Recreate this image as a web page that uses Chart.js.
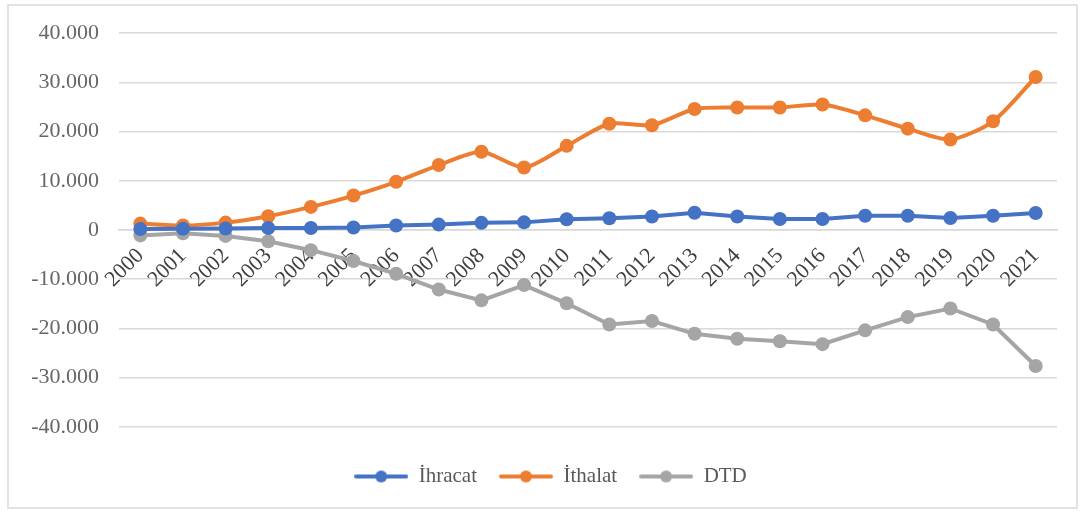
<!DOCTYPE html>
<html>
<head>
<meta charset="utf-8">
<script src="https://cdn.jsdelivr.net/npm/chart.js@4/dist/chart.umd.min.js"></script>
<style>
  html, body { margin: 0; padding: 0; background: #fff; }
  #wrap { position: relative; width: 1087px; height: 512px; }
  #frame { position: absolute; left: 7px; top: 4px; width: 1071px; height: 505px; border: 2px solid #e3e3e3; box-sizing: border-box; pointer-events: none; }
  canvas { position: absolute; left: 0; top: 0; }
</style>
</head>
<body>
<div id="wrap">
  <canvas id="chart" width="1087" height="512"></canvas>
  <div id="frame"></div>
</div>
<script>
// Years on the category axis
const years = ['2000', '2001', '2002', '2003', '2004', '2005', '2006', '2007', '2008', '2009', '2010',
    '2011', '2012', '2013', '2014', '2015', '2016', '2017', '2018', '2019', '2020', '2021'];

// Series values
const ihracat = [200, 250, 300, 400, 400, 500, 900, 1100, 1450, 1550, 2200,
    2400, 2750, 3500, 2750, 2250, 2250, 2900, 2900, 2450, 2900, 3450];
const ithalat = [1300, 900, 1500, 2800, 4700, 7000, 9800, 13200, 15900, 12700, 17100,
    21600, 21300, 24600, 24900, 24900, 25500, 23300, 20600, 18400, 22100, 31100];
const dtd = [-1100, -650, -1200, -2300, -4100, -6300, -8900, -12100, -14300, -11200, -14900,
    -19200, -18500, -21100, -22100, -22600, -23200, -20400, -17700, -15950, -19200, -27650];

// Y axis range
const yMin = -40000;
const yMax = 40000;
const yStep = 10000;

const BLUE = '#4472c4';
const ORANGE = '#ed7d31';
const GRAY = '#a5a5a5';
const TEXT = '#595959';
const FONT = '"Liberation Serif", "DejaVu Serif", serif';

// Legend icon: a short line with a dot in the middle
function legendIcon(color) {
    const c = document.createElement('canvas');
    c.width = 54;
    c.height = 16;
    const ctx = c.getContext('2d');
    ctx.strokeStyle = color;
    ctx.lineWidth = 4;
    ctx.lineCap = 'round';
    ctx.beginPath();
    ctx.moveTo(2, 8);
    ctx.lineTo(52, 8);
    ctx.stroke();
    ctx.fillStyle = color;
    ctx.beginPath();
    ctx.arc(27, 8, 6, 0, Math.PI * 2);
    ctx.fill();
    return c;
}

function formatThousands(v) {
    if (v === 0) return '0';
    const s = Math.abs(v).toString().replace(/\B(?=(\d{3})+(?!\d))/g, '.');
    return (v < 0 ? '-' : '') + s;
}

function makeSeries(label, data, color, tension) {
    return {
        label: label,
        data: data,
        borderColor: color,
        backgroundColor: color,
        borderWidth: 4,
        pointRadius: 7,
        pointHoverRadius: 7,
        pointBorderWidth: 0,
        tension: tension,
        icon: legendIcon(color)
    };
}

// legend sits a bit right of the canvas centre in the original
const shiftLegend = {
    id: 'shiftLegend',
    afterLayout(chart) {
        const lg = chart.legend;
        if (lg) {
            lg.left += 22;
            lg.right += 22;
        }
    }
};

new Chart(document.getElementById('chart'), {
    type: 'line',
    data: {
        labels: years,
        datasets: [
            makeSeries('İhracat', ihracat, BLUE, 0),
            makeSeries('İthalat', ithalat, ORANGE, 0.25),
            makeSeries('DTD', dtd, GRAY, 0)
        ]
    },
    plugins: [shiftLegend],
    options: {
        responsive: false,
        animation: false,
        layout: {
            padding: { top: 33, right: 30, bottom: 15, left: 0 }
        },
        plugins: {
            tooltip: { enabled: false },
            legend: {
                position: 'bottom',
                title: { display: true, text: ' ', font: { size: 1 }, padding: { top: 16, bottom: 0 } },
                labels: {
                    usePointStyle: true,
                    pointStyleWidth: 54,
                    padding: 22,
                    color: TEXT,
                    font: { family: FONT, size: 21 },
                    generateLabels: chart => {
                        const items = Chart.defaults.plugins.legend.labels.generateLabels(chart);
                        items.forEach(it => {
                            it.pointStyle = chart.data.datasets[it.datasetIndex].icon;
                        });
                        return items;
                    }
                }
            }
        },
        scales: {
            x: {
                position: { y: 0 },
                offset: true,
                grid: { display: false, drawTicks: false, offset: true },
                border: { display: true, color: '#d9d9d9', width: 1.5 },
                ticks: {
                    color: '#3f3f3f',
                    font: { family: FONT, size: 22 },
                    maxRotation: 45,
                    minRotation: 45,
                    autoSkip: false,
                    padding: 13
                },
                afterFit: s => { s.height = 0; }
            },
            y: {
                min: yMin,
                max: yMax,
                grid: { color: '#d9d9d9', lineWidth: 1.5, drawTicks: false },
                border: { display: false },
                ticks: {
                    stepSize: yStep,
                    padding: 20,
                    color: '#666666',
                    font: { family: FONT, size: 22 },
                    callback: v => formatThousands(v)
                },
                afterFit: s => { s.width = 119; }
            }
        }
    }
});
</script>
</body>
</html>
